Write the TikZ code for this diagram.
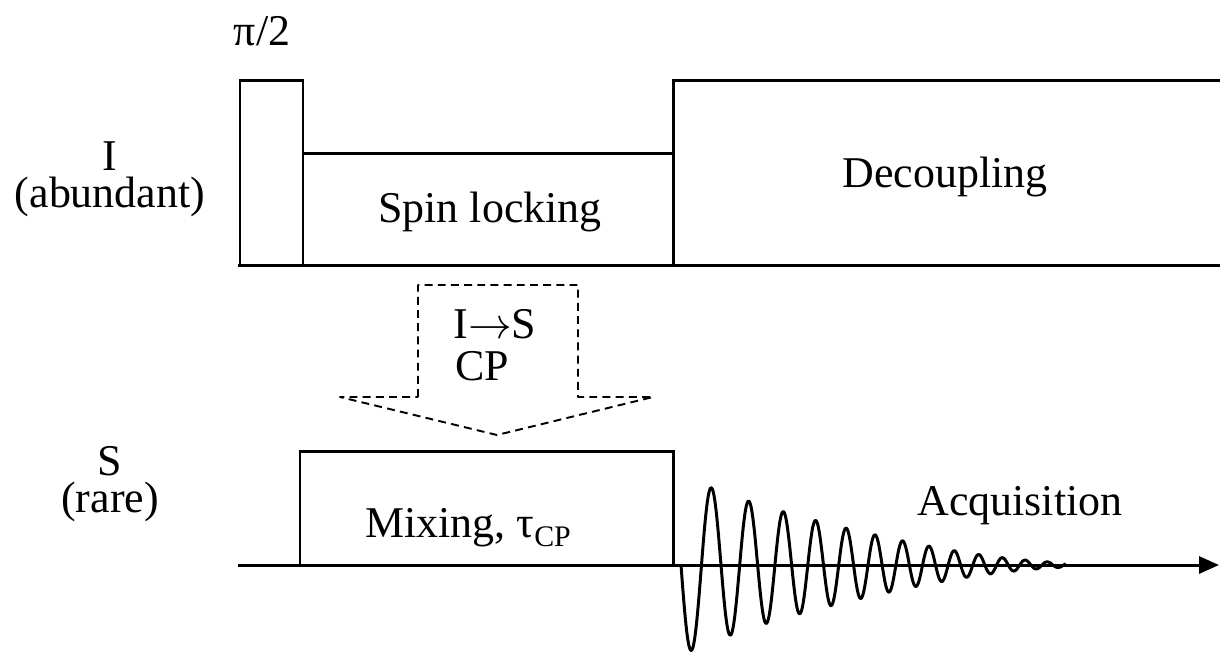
\documentclass[tikz,border=0pt]{standalone}
\usepackage{fontspec}
\setmainfont{Liberation Serif}
\usetikzlibrary{arrows.meta}

\begin{document}
\begin{tikzpicture}
  [x=0.02cm,y=-0.02cm,
  pulse/.style={black,line width=1.7pt,line join=miter},
  cpdash/.style={black,line width=1.1pt,dash pattern=on 4.5pt off 3pt,line join=round},
  lbl/.style={inner sep=0pt,anchor=base,font=\fontsize{25}{30}\selectfont},
  lblw/.style={lbl,anchor=base west},
  chan/.style={inner sep=0pt,align=center,font=\fontsize{25}{21}\selectfont}]
  \useasboundingbox (0,0) rectangle (1220,654);

  % channel labels
  \node[chan] (chI) at (110,179) {I\\(abundant)};
  \node[chan] (chS) at (110,484) {S\\(rare)};

  % I channel: pi/2 pulse, spin locking, decoupling
  \coordinate (i0) at (238,265);
  \coordinate (iend) at (1222,265);
  \draw [pulse] (i0) -- (iend);
  \draw [pulse] (240,265) -- (240,80) -- (303,80) -- (303,265);
  \draw [pulse] (303,153) -- (673,153);
  \draw [pulse] (673,265) -- (673,80) -- (1222,80);
  \node[lbl] (pi2) at (262,45) {π/2};
  \node[lbl] (lock) at (490,222) {Spin locking};
  \node[lbl] (decoup) at (945,187) {Decoupling};

  % I -> S transfer
  \draw [cpdash] (418,397) -- (418,285) -- (578,285) -- (578,397) -- (653,397)
    -- (497,435) -- (340,397) -- cycle;
  \node[lbl] (cp1) at (495,338) {I\ensuremath{\rightarrow}S};
  \node[lbl] (cp2) at (482,380) {CP};

  % S channel: mixing and acquisition
  \coordinate (s0) at (238,565);
  \coordinate (send) at (1219,565);
  \draw [pulse,-{Triangle[length=0.4cm,width=0.34cm]}] (s0) -- (send);
  \draw [pulse] (300,565) -- (300,451) -- (673,451) -- (673,565);
  \draw [pulse,line join=round] plot [domain=0:3.85,samples=400,smooth]
    ({681+100*\x},{565+90*exp(-\x/2-(\x/3.3)^4)*sin(856.8*\x+108*\x*\x)});
  \node[lblw] (mix) at (365,537) {Mixing, τ\raisebox{-0.22em}{\fontsize{17}{17}\selectfont CP}};
  \node[lblw] (acq) at (917,515) {Acquisition};
\end{tikzpicture}
\end{document}
